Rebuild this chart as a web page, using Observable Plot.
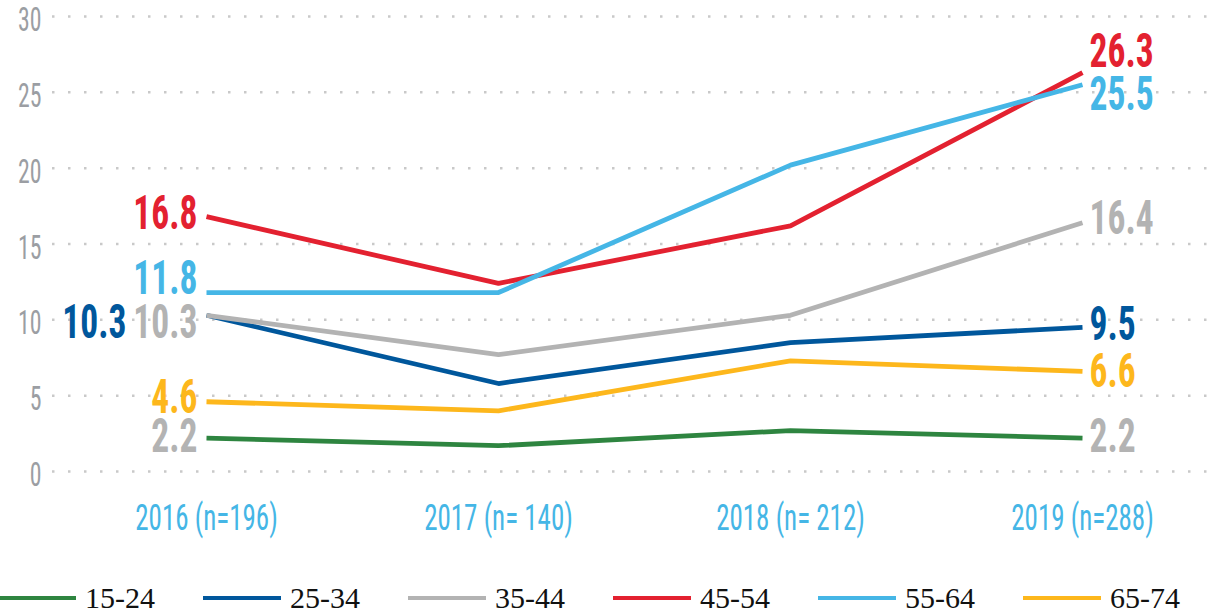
<!DOCTYPE html>
<html><head><meta charset="utf-8">
<script src="https://cdn.jsdelivr.net/npm/d3@7"></script>
<script src="https://cdn.jsdelivr.net/npm/@observablehq/plot@0.6"></script>
<style>
body{margin:0;background:#fff;}
#legend{display:flex;height:46px;align-items:center;font-family:"Liberation Serif","Times New Roman",serif;font-size:30px;color:#111;margin-left:-2px;white-space:nowrap}
.item{display:flex;align-items:center;margin-right:48px}
.sw{width:78px;height:4px;margin-right:9px}
</style></head><body><div id="chart"></div><div id="legend"></div>
<script>
// ---- data ----
const years = ["2016 (n=196)", "2017 (n= 140)", "2018 (n= 212)", "2019 (n=288)"];
const ageGroups = ["15-24", "25-34", "35-44", "45-54", "55-64", "65-74"];
const v15_24 = [2.2, 1.7, 2.7, 2.2];
const v25_34 = [10.3, 5.8, 8.5, 9.5];
const v35_44 = [10.3, 7.7, 10.3, 16.4];
const v45_54 = [16.8, 12.4, 16.2, 26.3];
const v55_64 = [11.8, 11.8, 20.2, 25.5];
const v65_74 = [4.6, 4.0, 7.3, 6.6];
const yTicks = [0, 5, 10, 15, 20, 25, 30];

// ---- styles / layout ----
const colors = ["#2e8540", "#00579c", "#b3b3b3", "#e32130", "#45b6e6", "#fdb71c"];
const labelColors = ["#b3b3b3", "#00579c", "#b3b3b3", "#e32130", "#45b6e6", "#fdb71c"];
const leftNudge = [[0, -1], [-71, 7], [0, 7], [0, -3], [0, -14], [0, -4]];
const rightNudge = [[0, -1], [0, -3], [0, -4], [0, -21], [0, 10], [0, 0]];
const condensed = `"Liberation Sans Narrow","Roboto Condensed","DejaVu Sans Condensed","Liberation Sans",sans-serif`;

const seriesValues = [v15_24, v25_34, v35_44, v45_54, v55_64, v65_74];
const rows = [];
ageGroups.forEach((g, i) => seriesValues[i].forEach((v, j) => rows.push({group: g, year: years[j], value: v})));

const labelMarks = [];
ageGroups.forEach((g, i) => {
  const vals = seriesValues[i];
  const first = {group: g, year: years[0], value: vals[0]};
  const last = {group: g, year: years[years.length - 1], value: vals[vals.length - 1]};
  labelMarks.push(Plot.text([first], {x: "year", y: "value", text: d => d.value.toFixed(1),
    textAnchor: "end", dx: -9 + leftNudge[i][0], dy: leftNudge[i][1], fill: labelColors[i],
    fontSize: 48, fontWeight: "bold", fontFamily: condensed}));
  labelMarks.push(Plot.text([last], {x: "year", y: "value", text: d => d.value.toFixed(1),
    textAnchor: "start", dx: 7 + rightNudge[i][0], dy: rightNudge[i][1], fill: labelColors[i],
    fontSize: 48, fontWeight: "bold", fontFamily: condensed}));
});

const chart = Plot.plot({
  width: 1214, height: 575,
  marginTop: 16, marginBottom: 104, marginLeft: 52, marginRight: 0,
  x: {type: "point", domain: years, range: [205, 1083], padding: 0},
  y: {domain: [0, 30]},
  color: {domain: ageGroups, range: colors},
  style: {background: "#fff"},
  marks: [
    Plot.ruleY(yTicks, {stroke: "#c9c9c9", strokeWidth: 2.5, strokeDasharray: "2.5,13.5"}),
    Plot.axisY(yTicks, {tickSize: 0, tickPadding: 11, fontSize: 33, fill: "#9b9ea3", label: null, dy: 4, fontFamily: condensed}),
    Plot.axisX({tickSize: 0, tickPadding: 33, fontSize: 36, fill: "#45b6e6", label: null, fontFamily: condensed}),
    Plot.line(rows, {x: "year", y: "value", z: "group", stroke: "group", strokeWidth: 4.8, strokeLinejoin: "miter", strokeLinecap: "butt"}),
    ...labelMarks
  ]
});
document.getElementById("chart").appendChild(chart);

function squeeze(sel, s) {
  chart.querySelectorAll(sel).forEach(t => {
    const tr = t.getAttribute("transform") || "";
    t.setAttribute("transform", `${tr} scale(${s},1)`);
  });
}
squeeze('g[aria-label="y-axis tick label"] text', 0.72);
squeeze('g[aria-label="x-axis tick label"] text', 0.75);
squeeze('g[aria-label="text"] text', 0.74);

const legend = d3.select("#legend");
ageGroups.forEach((g, i) => {
  const it = legend.append("div").attr("class", "item");
  it.append("div").attr("class", "sw").style("background", colors[i]);
  it.append("span").text(g);
});
</script></body></html>
